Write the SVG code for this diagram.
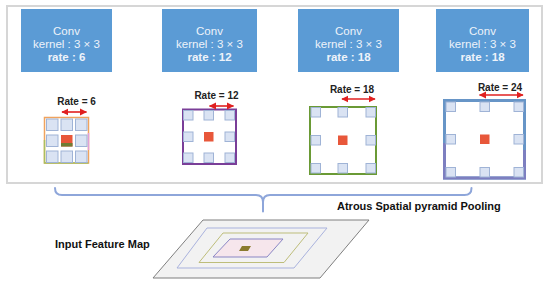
<svg xmlns="http://www.w3.org/2000/svg" width="550" height="284" viewBox="0 0 550 284">
<defs>
<style>
.conv{fill:#5B9BD5;}
.ct{font-family:"Liberation Sans",Arial,sans-serif;font-size:11.5px;fill:#EEF3FA;text-anchor:middle;}
.ctb{font-weight:bold;}
.rl{font-family:"Liberation Sans",Arial,sans-serif;font-size:10px;font-weight:bold;fill:#222;text-anchor:middle;}
.lbl{font-family:"Liberation Sans",Arial,sans-serif;font-size:11px;font-weight:bold;fill:#111;}
.cell{fill:#DAE3F3;stroke:#9FB3D6;stroke-width:1;}
.ctr{fill:#E8573A;}
.arr{stroke:#E02020;stroke-width:1.6;fill:none;marker-start:url(#ah);marker-end:url(#ah);}
.brace{stroke:#8EA6DA;stroke-width:2;fill:none;stroke-linecap:round;}
</style>
<marker id="ah" viewBox="0 0 10 10" refX="9" refY="5" markerWidth="4.5" markerHeight="4.5" orient="auto-start-reverse">
<path d="M0,0 L10,5 L0,10 z" fill="#E02020"/>
</marker>
</defs>
<rect width="550" height="284" fill="#fff"/>
<rect id="frame" x="7" y="6" width="535" height="177" fill="#fff" stroke="#D6D6D6" stroke-width="2"/>

<g id="conv1">
<rect class="conv" x="21" y="9" width="91" height="63"/>
<text class="ct" x="66.5" y="35">Conv</text>
<text class="ct" x="66.5" y="48">kernel : 3 × 3</text>
<text class="ct ctb" x="66.5" y="61">rate : 6</text>
</g>
<g id="conv2">
<rect class="conv" x="162" y="9" width="95" height="63"/>
<text class="ct" x="209.5" y="35">Conv</text>
<text class="ct" x="209.5" y="48">kernel : 3 × 3</text>
<text class="ct ctb" x="209.5" y="61">rate : 12</text>
</g>
<g id="conv3">
<rect class="conv" x="298" y="9" width="101" height="63"/>
<text class="ct" x="348.5" y="35">Conv</text>
<text class="ct" x="348.5" y="48">kernel : 3 × 3</text>
<text class="ct ctb" x="348.5" y="61">rate : 18</text>
</g>
<g id="conv4">
<rect class="conv" x="436" y="9" width="93" height="63"/>
<text class="ct" x="482.5" y="35">Conv</text>
<text class="ct" x="482.5" y="48">kernel : 3 × 3</text>
<text class="ct ctb" x="482.5" y="61">rate : 18</text>
</g>

<g id="grid1">
<rect x="44.5" y="117.5" width="44" height="45.5" fill="#fff" stroke="#F0A35E" stroke-width="1.5"/>
<path d="M44.5,140 V163 H88.5" fill="none" stroke="#A8C060" stroke-width="1.5"/>
<path d="M88.5,133 V150" fill="none" stroke="#E0A0D8" stroke-width="1.5"/>
<rect class="cell" x="46.5" y="119" width="11.5" height="11.5"/>
<rect class="cell" x="61" y="119" width="11.5" height="11.5"/>
<rect class="cell" x="75.5" y="119" width="11.5" height="11.5"/>
<rect class="cell" x="46.5" y="135" width="11.5" height="11.5"/>
<rect class="ctr" x="61" y="135" width="11.5" height="11.5"/>
<rect x="61" y="143" width="11.5" height="3.5" fill="#6F7D34"/>
<rect class="cell" x="75.5" y="135" width="11.5" height="11.5"/>
<rect class="cell" x="46.5" y="151" width="11.5" height="11.5"/>
<rect class="cell" x="61" y="151" width="11.5" height="11.5"/>
<rect class="cell" x="75.5" y="151" width="11.5" height="11.5"/>
<text class="rl" x="76.5" y="105">Rate = 6</text>
</g>

<g id="grid2">
<rect x="183" y="109.5" width="53" height="54.5" fill="#fff" stroke="#7A3E98" stroke-width="2"/>
<rect class="cell" x="183.5" y="110.5" width="9.5" height="9.5"/>
<rect class="cell" x="204" y="110.5" width="9.5" height="9.5"/>
<rect class="cell" x="225" y="110.5" width="9.5" height="9.5"/>
<rect class="cell" x="183.5" y="132" width="9.5" height="9.5"/>
<rect class="ctr" x="204" y="132" width="9.5" height="9.5"/>
<rect class="cell" x="225" y="132" width="9.5" height="9.5"/>
<rect class="cell" x="183.5" y="153" width="9.5" height="9.5"/>
<rect class="cell" x="204" y="153" width="9.5" height="9.5"/>
<rect class="cell" x="225" y="153" width="9.5" height="9.5"/>
<text class="rl" x="216.5" y="99">Rate = 12</text>
</g>

<g id="grid3">
<rect x="310" y="107" width="66" height="67" fill="#fff" stroke="#6A9A35" stroke-width="2"/>
<rect class="cell" x="311" y="107.5" width="9.5" height="9.5"/>
<rect class="cell" x="338" y="107.5" width="9.5" height="9.5"/>
<rect class="cell" x="366" y="107.5" width="9.5" height="9.5"/>
<rect class="cell" x="311" y="135.5" width="9.5" height="9.5"/>
<rect class="ctr" x="338" y="135.5" width="9.5" height="9.5"/>
<rect class="cell" x="366" y="135.5" width="9.5" height="9.5"/>
<rect class="cell" x="311" y="163.5" width="9.5" height="9.5"/>
<rect class="cell" x="338" y="163.5" width="9.5" height="9.5"/>
<rect class="cell" x="366" y="163.5" width="9.5" height="9.5"/>
<text class="rl" x="352" y="92.5">Rate = 18</text>
</g>

<g id="grid4">
<rect x="444.5" y="100.5" width="80" height="77.5" fill="#fff" stroke="#6795C7" stroke-width="3"/>
<path d="M444.5,143 V178 H524.5 V150" fill="none" stroke="#7D7FC0" stroke-width="3"/>
<rect class="cell" x="446" y="102" width="9.5" height="9.5"/>
<rect class="cell" x="480" y="102" width="9.5" height="9.5"/>
<rect class="cell" x="514" y="102" width="9.5" height="9.5"/>
<rect class="cell" x="446" y="134.5" width="9.5" height="9.5"/>
<rect class="ctr" x="480" y="134.5" width="9.5" height="9.5"/>
<rect class="cell" x="514" y="134.5" width="9.5" height="9.5"/>
<rect class="cell" x="446" y="167.5" width="9.5" height="9.5"/>
<rect class="cell" x="480" y="167.5" width="9.5" height="9.5"/>
<rect class="cell" x="514" y="167.5" width="9.5" height="9.5"/>
<text class="rl" x="500" y="91">Rate = 24</text>
</g>

<g id="inputmap">
<polygon points="203,220 369,220 320,278 153,278" fill="#F2F2F2" stroke="#7F7F7F" stroke-width="1"/>
<polygon points="207,228 327,228 294,268 177,268" fill="none" stroke="#A9B2DD" stroke-width="1"/>
<polygon points="223,233 308,233 284,262.5 199,262.5" fill="none" stroke="#BDBD7A" stroke-width="1"/>
<polygon points="230,239 283,239 267,257 213,257" fill="#F6E6EC" stroke="#8A86C4" stroke-width="1"/>
<polygon points="242,246 251,246 248,251 239,251" fill="#8A7A2E"/>
<text class="lbl" x="55" y="248">Input Feature Map</text>
</g>

<g id="aspp-label">
<text class="lbl" x="337" y="210">Atrous Spatial pyramid Pooling</text>
</g>

<g id="connectors">
<line class="arr" x1="62" y1="112" x2="86.5" y2="112"/>
<line class="arr" x1="209.5" y1="106" x2="233.5" y2="106"/>
<line class="arr" x1="342" y1="99" x2="375" y2="99"/>
<line class="arr" x1="479.5" y1="95" x2="523" y2="95"/>
<path class="brace" d="M55,188 Q55,195 62,195 L256,195 Q263,195 263,202 L263,211.5 M263,202 Q263,195 270,195 L464.5,195 Q471.5,195 471.5,188"/>
</g>
</svg>
